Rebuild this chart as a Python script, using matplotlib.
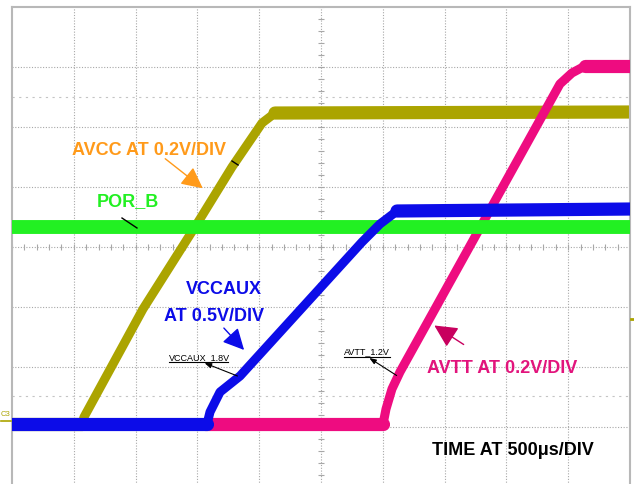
import matplotlib
matplotlib.use("Agg")
import matplotlib.pyplot as plt
import numpy as np

plt.rcParams['font.family'] = ['Liberation Sans', 'DejaVu Sans']

# ---- data: time in microseconds (500 us/div), level in screen divisions ----
avcc_t = [0, 566, 583, 1060, 1521, 1780, 2023, 2128, 5000]
avcc_v = [1.05, 1.05, 1.167, 2.967, 4.467, 5.333, 6.067, 6.233, 6.25]

por_t = [0, 5000]
por_v = [4.333, 4.333]

vccaux_t = [0, 1578, 1602, 1683, 1845, 2832, 2977, 3115, 5000]
vccaux_v = [1.05, 1.05, 1.25, 1.583, 1.85, 4.083, 4.383, 4.60, 4.633]

avtt_t = [1561, 3002, 3026, 3074, 3139, 4433, 4530, 4636, 5000]
avtt_v = [1.05, 1.05, 1.30, 1.633, 1.917, 6.717, 6.90, 7.017, 7.017]

labels = {
    'avcc': 'AVCC AT 0.2V/DIV',
    'por': 'POR_B',
    'vccaux1': 'VCCAUX',
    'vccaux2': 'AT 0.5V/DIV',
    'avtt': 'AVTT AT 0.2V/DIV',
    'time': 'TIME AT 500\u03bcs/DIV',
    'vccaux_net': 'VCCAUX_1.8V',
    'avtt_net': 'AVTT_1.2V',
}

YEL = '#ABA400'
GRN = '#22F022'
BLU = '#0C0CE8'
PNK = '#EE0C80'
ORG = '#FF9A1A'

fig = plt.figure(figsize=(6.34, 4.85), dpi=100)
ax = fig.add_axes([12/634, -3/485, 618/634, 480/485])
ax.set_xlim(0, 5000)
ax.set_ylim(0, 8)
ax.set_xticks([]); ax.set_yticks([])
for s in ax.spines.values():
    s.set_color('#B8B8B8'); s.set_linewidth(1.5)

gcol = '#A8A8A8'
for i in range(1, 10):
    ax.axvline(i*500, color=gcol, lw=0.8, ls=(0, (1, 1.5)), zorder=0)
for j in range(1, 8):
    ax.axhline(j, color=gcol, lw=0.8, ls=(0, (1, 1.5)), zorder=0)
for lv in [6.5, 1.517]:
    ax.axhline(lv, color='#C4C4C4', lw=0.8, ls=(0, (2, 4)), zorder=0)
# minor ticks on centre lines
tt = np.arange(0, 5001, 100)
ax.vlines(tt, 4 - 0.05, 4 + 0.05, color=gcol, lw=0.8, zorder=0)
ll = np.arange(0, 8.01, 0.2)
ax.hlines(ll, 2500 - 25, 2500 + 25, color=gcol, lw=0.8, zorder=0)

kw = dict(solid_joinstyle='round', solid_capstyle='butt')
kwr = dict(solid_joinstyle='round', solid_capstyle='round')

def trace(t, v, color, z, lw_slope=6.5, lw_flat=9.5):
    ax.plot(t, v, color=color, lw=lw_slope, zorder=z, **kw)
    # flat start and end segments are drawn thicker, as the noise band is taller
    ax.plot(t[:2], v[:2], color=color, lw=lw_flat, zorder=z, **kwr)
    ax.plot(t[-2:], v[-2:], color=color, lw=lw_flat, zorder=z, **kwr)

trace(avcc_t, avcc_v, YEL, 2)
trace(avtt_t, avtt_v, PNK, 3)
ax.plot(por_t, por_v, color=GRN, lw=10, zorder=4, **kw)
trace(vccaux_t, vccaux_v, BLU, 5)

fb = dict(fontsize=13, fontweight='bold', va='center', zorder=10)
ax.text(485, 5.633, labels['avcc'], color=ORG, ha='left', **fb)
ax.annotate('', xy=(1561, 4.95), xytext=(1222, 5.5),
            arrowprops=dict(arrowstyle='-|>,head_length=1.3,head_width=0.65', color=ORG, lw=1), zorder=10)
ax.text(688, 4.767, labels['por'], color=GRN, ha='left', **fb)
ax.plot([890, 1011], [4.483, 4.317], color='black', lw=1, zorder=10)
ax.plot([1780, 1829], [5.433, 5.367], color='black', lw=1, zorder=10)

ax.text(1715, 3.30, labels['vccaux1'], color=BLU, ha='center', **fb)
ax.text(1634, 2.858, labels['vccaux2'], color=BLU, ha='center', **fb)
ax.annotate('', xy=(1893, 2.25), xytext=(1699, 2.683),
            arrowprops=dict(arrowstyle='-|>,head_length=1.3,head_width=0.65', color=BLU, lw=1), zorder=10)

ax.text(1270, 2.10, labels['vccaux_net'], color='black', ha='left', va='bottom', fontsize=6.5, zorder=10)
ax.plot([1270, 1748], [2.083, 2.083], color='black', lw=0.8, zorder=10)
ax.annotate('', xy=(1537, 2.083), xytext=(1845, 1.833),
            arrowprops=dict(arrowstyle='-|>,head_length=0.4,head_width=0.15', color='black', lw=0.8), zorder=10)

ax.text(2686, 2.19, labels['avtt_net'], color='black', ha='left', va='bottom', fontsize=6.5, zorder=10)
ax.plot([2686, 3058], [2.175, 2.175], color='black', lw=0.8, zorder=10)
ax.annotate('', xy=(2872, 2.175), xytext=(3131, 1.833),
            arrowprops=dict(arrowstyle='-|>,head_length=0.4,head_width=0.15', color='black', lw=0.8), zorder=10)

ax.text(3357, 1.99, labels['avtt'], color='#E2147C', ha='left', **fb)
ax.annotate('', xy=(3398, 2.717), xytext=(3673, 2.35),
            arrowprops=dict(arrowstyle='-|>,head_length=1.4,head_width=0.7', color='#C8005E', lw=1), zorder=10)

ax.text(3398, 0.633, labels['time'], color='black', ha='left', **fb)

# channel markers
fig.text(1/634, 1 - 415/485, 'C3', color=YEL, fontsize=5.5, va='center', ha='left')
fig.add_artist(plt.Line2D([1/634, 11/634], [1 - 422/485, 1 - 422/485], color=YEL, lw=1.2))
fig.add_artist(plt.Line2D([631/634, 634/634], [1 - 320/485, 1 - 320/485], color=YEL, lw=2))

fig.savefig('out.png', dpi=100)
